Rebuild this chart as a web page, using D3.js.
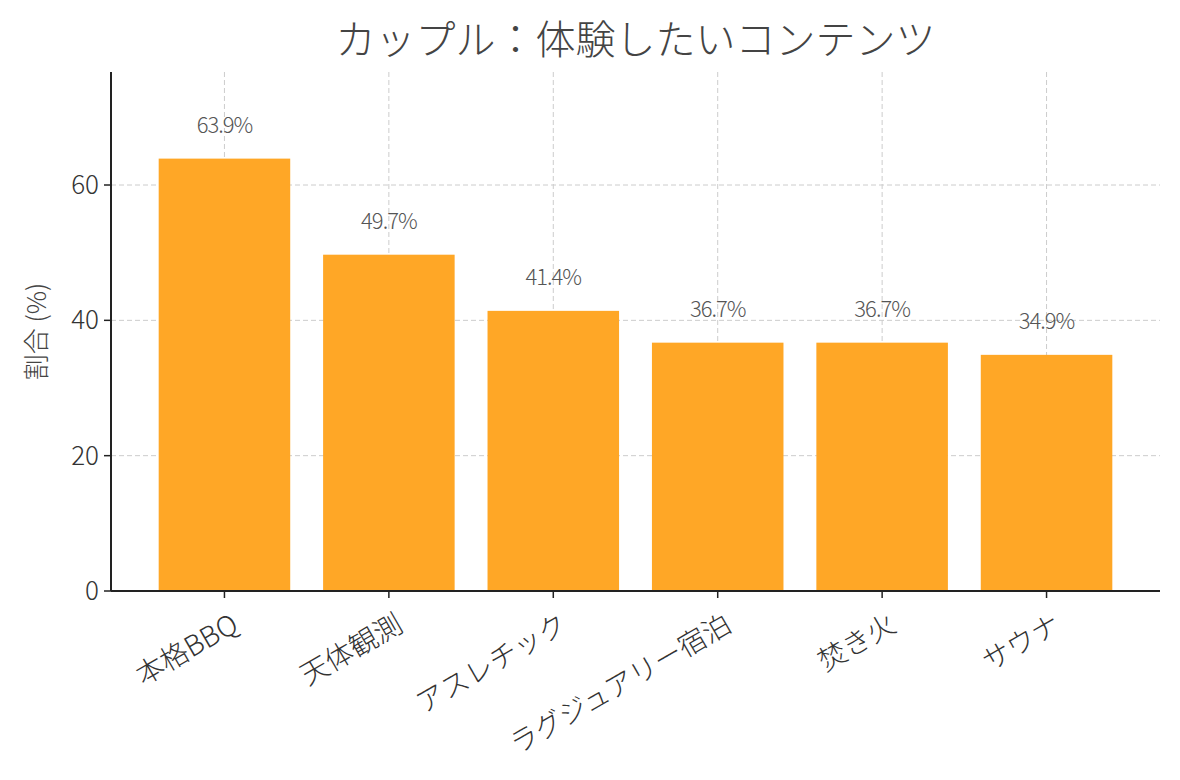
<!DOCTYPE html><html><head><meta charset="utf-8">
<script src="https://cdn.jsdelivr.net/npm/d3@7"></script>
<style>body{margin:0;background:#fff}text{font-family:"Noto Sans CJK JP","Noto Sans",sans-serif;font-weight:300}</style></head><body>
<svg id="c" width="1180" height="780"></svg>
<script>
const categories=["本格BBQ","天体観測","アスレチック","ラグジュアリー宿泊","焚き火","サウナ"];
const values=[63.9,49.7,41.4,36.7,36.7,34.9];
const yTicks=[0,20,40,60];
const svg=d3.select("#c");
const L=111,R=1160,T=72,B=591;
const x=d3.scaleLinear().domain([-0.69,5.69]).range([L,R]);
const y=d3.scaleLinear().domain([0,76.7]).range([B,T]);
const bw=x(0.4)-x(-0.4);
const g=svg.append("g");
yTicks.slice(1).forEach(t=>g.append("line").attr("x1",L).attr("x2",R).attr("y1",y(t)).attr("y2",y(t)).attr("stroke","#ccc").attr("stroke-dasharray","5,3"));
categories.forEach((c,i)=>g.append("line").attr("x1",x(i)).attr("x2",x(i)).attr("y1",T).attr("y2",B).attr("stroke","#ccc").attr("stroke-dasharray","5,3"));
categories.forEach((c,i)=>{
 svg.append("rect").attr("x",x(i)-bw/2).attr("width",bw).attr("y",y(values[i])).attr("height",B-y(values[i])).attr("fill","#FFA726");
 svg.append("text").attr("x",x(i)).attr("y",y(values[i])-26).attr("text-anchor","middle").attr("font-size",22).attr("fill","#555").attr("letter-spacing","-1").text(values[i].toFixed(1)+"%");
 svg.append("line").attr("x1",x(i)).attr("x2",x(i)).attr("y1",B).attr("y2",B+7).attr("stroke","#222").attr("stroke-width",1.5);
 svg.append("text").attr("transform",`translate(${x(i)+6},${B+22}) rotate(-30)`).attr("text-anchor","end").attr("dy","0.7em").attr("font-size",28).attr("fill","#333").text(c);
});
yTicks.forEach(t=>{
 svg.append("line").attr("x1",L-7).attr("x2",L).attr("y1",y(t)).attr("y2",y(t)).attr("stroke","#222").attr("stroke-width",1.5);
 svg.append("text").attr("x",L-12).attr("y",y(t)).attr("dy","0.35em").attr("text-anchor","end").attr("font-size",26).attr("fill","#333").text(t);
});
svg.append("line").attr("x1",L).attr("x2",L).attr("y1",T).attr("y2",B).attr("stroke","#222").attr("stroke-width",2);
svg.append("line").attr("x1",L).attr("x2",R).attr("y1",B).attr("y2",B).attr("stroke","#222").attr("stroke-width",2);
svg.append("text").attr("transform",`translate(46,${(T+B)/2}) rotate(-90)`).attr("text-anchor","middle").attr("font-size",26).attr("fill","#444").text("割合 (%)");
svg.append("text").attr("x",(L+R)/2).attr("y",54).attr("text-anchor","middle").attr("font-size",40).attr("fill","#444").text("カップル：体験したいコンテンツ");
</script></body></html>
